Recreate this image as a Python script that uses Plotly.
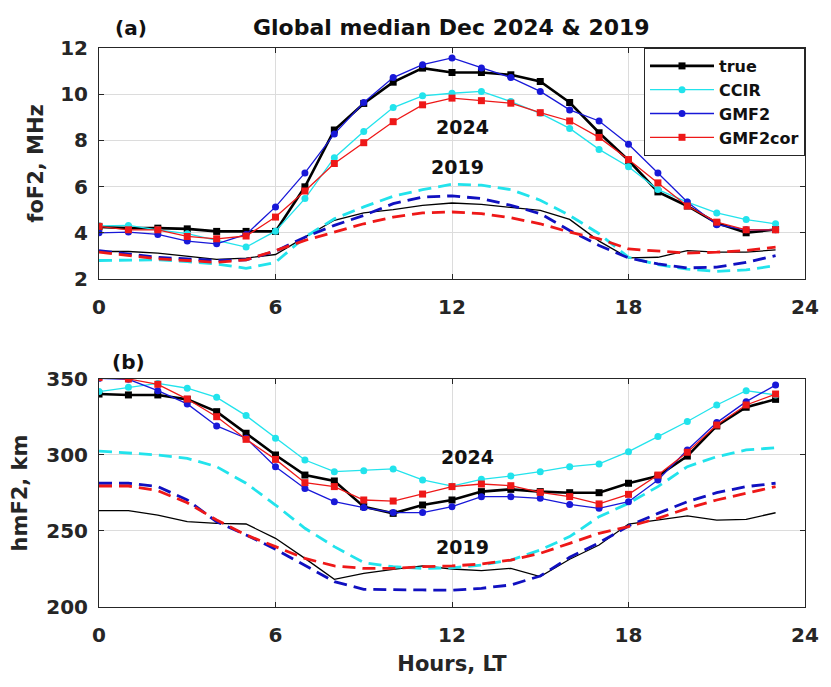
import plotly.graph_objects as go

hours = list(range(24))
x_ticks = [0, 6, 12, 18, 24]
fo_ticks = [2, 4, 6, 8, 10, 12]
hm_ticks = [200, 250, 300, 350]

fo_true_2024 = [4.25, 4.2, 4.2, 4.17, 4.06, 4.06, 4.06, 5.99, 8.45, 9.6, 10.52, 11.13, 10.94, 10.94, 10.84, 10.55, 9.64, 8.33, 7.14, 5.77, 5.16, 4.42, 4.0, 4.14]
fo_ccir_2024 = [4.3, 4.32, 4.13, 3.96, 3.67, 3.38, 4.07, 5.48, 7.25, 8.38, 9.42, 9.93, 10.04, 10.12, 9.68, 9.17, 8.52, 7.61, 6.86, 5.87, 5.33, 4.86, 4.57, 4.39]
fo_gmf2_2024 = [4.0, 4.03, 3.93, 3.64, 3.52, 3.93, 5.12, 6.59, 8.28, 9.64, 10.72, 11.28, 11.57, 11.13, 10.72, 10.12, 9.32, 8.84, 7.83, 6.59, 5.33, 4.35, 4.13, 4.13]
fo_cor_2024 = [4.28, 4.13, 4.13, 3.84, 3.74, 3.86, 4.68, 5.81, 7.0, 7.9, 8.81, 9.54, 9.83, 9.72, 9.61, 9.2, 8.84, 8.13, 7.17, 6.16, 5.16, 4.46, 4.13, 4.13]

fo_true_2019 = [3.19, 3.19, 3.12, 3.0, 2.85, 2.9, 3.06, 3.81, 4.54, 4.86, 5.0, 5.19, 5.29, 5.23, 5.09, 4.97, 4.58, 3.64, 2.91, 2.94, 3.23, 3.16, 3.16, 3.26]
fo_ccir_2019 = [2.8, 2.8, 2.83, 2.75, 2.65, 2.46, 2.72, 3.81, 4.61, 5.12, 5.58, 5.87, 6.1, 6.06, 5.87, 5.41, 4.75, 3.96, 2.94, 2.62, 2.43, 2.33, 2.39, 2.58]
fo_gmf2_2019 = [3.23, 3.1, 2.94, 2.87, 2.8, 2.83, 3.2, 3.81, 4.32, 4.75, 5.26, 5.55, 5.6, 5.48, 5.19, 4.83, 4.1, 3.45, 2.91, 2.65, 2.48, 2.51, 2.72, 3.01]
fo_cor_2019 = [3.16, 3.0, 2.87, 2.8, 2.72, 2.83, 3.23, 3.67, 4.03, 4.39, 4.68, 4.86, 4.9, 4.83, 4.65, 4.39, 4.03, 3.74, 3.3, 3.2, 3.12, 3.16, 3.23, 3.38]

hm_true_2024 = [340.1, 339.5, 339.5, 336.6, 328.5, 314.3, 300, 286.8, 282.9, 266, 261.6, 267.1, 270.4, 275.9, 277.4, 275.9, 275.2, 275.2, 281.4, 286.2, 299.3, 319.1, 331.4, 336.6]
hm_ccir_2024 = [341.7, 344.5, 347.1, 343.9, 337.9, 325.9, 311, 296.7, 289, 289.7, 290.8, 283.6, 279.5, 284, 286.2, 289, 292.3, 294.1, 302.2, 312.1, 322, 332.9, 342.3, 339.5]
hm_gmf2_2024 = [350.4, 349.8, 342.3, 333.6, 319.1, 311, 292.3, 278, 269.3, 265.4, 262.1, 262.1, 266, 272.6, 272.6, 271.5, 267.5, 264.9, 269.3, 283.6, 303.3, 321.3, 335.1, 346]
hm_cor_2024 = [350.9, 350, 346.5, 336.8, 325.2, 310.3, 297.1, 281.8, 279.2, 270.4, 269.7, 274.3, 279.2, 280.9, 279.8, 275.4, 272.6, 267.8, 274.1, 286.8, 301.8, 319.7, 332.9, 340.1]

hm_true_2019 = [263.4, 263.4, 260.5, 256.1, 255, 254.6, 245.2, 232, 218.2, 222.1, 224.8, 227, 225, 223.9, 225.4, 220, 231.4, 240.8, 254.6, 257.2, 259.9, 257.2, 257.7, 262]
hm_ccir_2019 = [302.6, 301.5, 300, 297.8, 292.3, 281.4, 267.1, 251.8, 239.7, 229.2, 226.5, 225.4, 225.8, 227.6, 230.9, 237.5, 246.3, 259.4, 268.2, 279.2, 292.3, 298.9, 303.3, 304.8]
hm_gmf2_2019 = [281.4, 281.4, 279.2, 270.4, 256.1, 247.4, 238, 227.6, 216.7, 211.6, 211.2, 211.2, 211, 212.3, 214.5, 220.4, 232.7, 242.3, 253.3, 261.6, 269.3, 275.2, 279.2, 281.4]
hm_cor_2019 = [279.6, 279.6, 276.5, 268.6, 257.2, 247.4, 239.7, 232, 227, 225.4, 225.4, 226.5, 227, 228.3, 230.9, 235.3, 241.9, 248.5, 252.9, 258.3, 264.9, 270.4, 274.8, 279.2]

names = ["true", "CCIR", "GMF2", "GMF2cor"]
colors = ["#000000", "#22E3EC", "#1818D8", "#EE1818"]
dash_colors = ["#000000", "#22E3EC", "#1010C0", "#EE1818"]
symbols = ["square", "circle", "circle", "square"]
widths = [2.6, 1.3, 1.3, 1.3]

FONT = "DejaVu Sans"
TXT = "#262626"

fig = go.Figure()

fo24 = [fo_true_2024, fo_ccir_2024, fo_gmf2_2024, fo_cor_2024]
fo19 = [fo_true_2019, fo_ccir_2019, fo_gmf2_2019, fo_cor_2019]
hm24 = [hm_true_2024, hm_ccir_2024, hm_gmf2_2024, hm_cor_2024]
hm19 = [hm_true_2019, hm_ccir_2019, hm_gmf2_2019, hm_cor_2019]

for axes, s19, s24, leg in [(("x", "y"), fo19, fo24, True), (("x2", "y2"), hm19, hm24, False)]:
    for i in range(4):
        if i == 0:
            line = dict(color=dash_colors[i], width=1.3)
        else:
            line = dict(color=dash_colors[i], width=2.8, dash="13px,7px")
        fig.add_trace(go.Scatter(x=hours, y=s19[i], mode="lines", line=line,
                                 showlegend=False, xaxis=axes[0], yaxis=axes[1]))
    for i in range(4):
        fig.add_trace(go.Scatter(x=hours, y=s24[i], mode="lines+markers", name=names[i],
                                 line=dict(color=colors[i], width=widths[i]),
                                 marker=dict(symbol=symbols[i], size=7, color=colors[i]),
                                 showlegend=leg, xaxis=axes[0], yaxis=axes[1]))

axis_common = dict(showgrid=True, gridcolor="#dcdcdc", gridwidth=1, zeroline=False,
                   showline=True, linecolor=TXT, linewidth=1, mirror="ticks",
                   ticks="inside", ticklen=5, tickcolor=TXT,
                   tickfont=dict(family=FONT, size=20, color=TXT, weight="bold"))

fig.update_layout(
    width=823, height=679,
    margin=dict(l=90, r=17, t=40, b=80),
    paper_bgcolor="white", plot_bgcolor="white",
    xaxis=dict(domain=[0, 1], anchor="y", range=[0, 24], tickvals=x_ticks,
               ticklabelstandoff=10, **axis_common),
    yaxis=dict(domain=[0.5868, 1], anchor="x", range=[2, 12], tickvals=fo_ticks,
               ticklabelstandoff=6,
               title=dict(text="foF2, MHz", standoff=10,
                          font=dict(family=FONT, size=21, color=TXT, weight="bold")),
               **axis_common),
    xaxis2=dict(domain=[0, 1], anchor="y2", range=[0, 24], tickvals=x_ticks,
                ticklabelstandoff=10,
                title=dict(text="Hours, LT", standoff=10,
                           font=dict(family=FONT, size=21, color=TXT, weight="bold")),
                **axis_common),
    yaxis2=dict(domain=[0, 0.4079], anchor="x2", range=[200, 350], tickvals=hm_ticks,
                ticklabelstandoff=6,
                title=dict(text="hmF2, km", standoff=12,
                           font=dict(family=FONT, size=21, color=TXT, weight="bold")),
                **axis_common),
    legend=dict(x=1, xanchor="right", y=1, yanchor="top", bgcolor="white",
                bordercolor=TXT, borderwidth=1, itemwidth=64,
                font=dict(family=FONT, size=16, color="#111111", weight="bold"),
                tracegroupgap=0),
    showlegend=True,
)

annots = [
    dict(text="Global median Dec 2024 & 2019", x=0.4986, y=1.0358, xref="paper", yref="paper", size=22),
    dict(text="(a)", x=0.046, y=1.0358, xref="paper", yref="paper", size=20),
    dict(text="(b)", x=0.0419, y=0.4383, xref="paper", yref="paper", size=20),
    dict(text="2024", x=12.37, y=8.58, xref="x", yref="y", size=19),
    dict(text="2019", x=12.2, y=6.85, xref="x", yref="y", size=19),
    dict(text="2024", x=12.54, y=298.7, xref="x2", yref="y2", size=19),
    dict(text="2019", x=12.34, y=239.5, xref="x2", yref="y2", size=19),
]
for a in annots:
    fig.add_annotation(text=a["text"], x=a["x"], y=a["y"], xref=a["xref"], yref=a["yref"],
                       showarrow=False, xanchor="center", yanchor="middle",
                       font=dict(family=FONT, size=a["size"], color="#111111", weight="bold"))

fig.write_html("out.html")
